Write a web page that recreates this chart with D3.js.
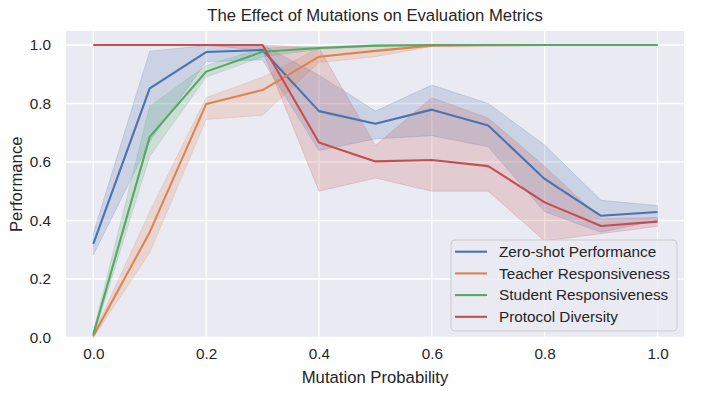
<!DOCTYPE html>
<html>
<head>
<meta charset="utf-8">
<script src="https://cdn.jsdelivr.net/npm/d3@7"></script>
<style>
  body { margin: 0; background: #fff; }
  text { font-family: Arial, "Liberation Sans", sans-serif; fill: #262626; }
</style>
</head>
<body>
<svg id="chart" width="701" height="396"></svg>
<script>
// mutation probability (x)
var probs = [0.0, 0.1, 0.2, 0.3, 0.4, 0.5, 0.6, 0.7, 0.8, 0.9, 1.0];

// series means + confidence band (lo / hi)
var zeroShot    = [0.320, 0.852, 0.976, 0.983, 0.774, 0.731, 0.779, 0.725, 0.542, 0.416, 0.429];
var zeroShotLo  = [0.282, 0.670, 0.943, 0.949, 0.639, 0.679, 0.690, 0.652, 0.430, 0.360, 0.400];
var zeroShotHi  = [0.356, 0.979, 0.998, 1.000, 0.897, 0.774, 0.863, 0.800, 0.658, 0.469, 0.451];

var teacher     = [0.005, 0.360, 0.798, 0.846, 0.960, 0.980, 0.998, 0.999, 1.000, 1.000, 1.000];
var teacherLo   = [0.000, 0.290, 0.745, 0.760, 0.940, 0.960, 0.995, 0.998, 1.000, 1.000, 1.000];
var teacherHi   = [0.010, 0.430, 0.820, 0.890, 0.990, 0.995, 1.000, 1.000, 1.000, 1.000, 1.000];

var student     = [0.010, 0.686, 0.909, 0.977, 0.990, 0.998, 1.000, 1.000, 1.000, 1.000, 1.000];
var studentLo   = [0.000, 0.620, 0.890, 0.960, 0.985, 0.996, 1.000, 1.000, 1.000, 1.000, 1.000];
var studentHi   = [0.020, 0.790, 0.930, 0.990, 0.995, 1.000, 1.000, 1.000, 1.000, 1.000, 1.000];

var protocol    = [1.000, 1.000, 1.000, 1.000, 0.667, 0.602, 0.607, 0.586, 0.462, 0.381, 0.396];
var protocolLo  = [1.000, 1.000, 1.000, 0.980, 0.500, 0.545, 0.500, 0.500, 0.330, 0.355, 0.380];
var protocolHi  = [1.000, 1.000, 1.000, 1.000, 0.990, 0.656, 0.820, 0.750, 0.585, 0.405, 0.410];

var seriesNames = ["Zero-shot Performance", "Teacher Responsiveness", "Student Responsiveness", "Protocol Diversity"];
var colors = ["#4C72B0", "#DD8452", "#55A868", "#C44E52"];
var xTicks = [0.0, 0.2, 0.4, 0.6, 0.8, 1.0];
var yTicks = [0.0, 0.2, 0.4, 0.6, 0.8, 1.0];

var series = [
    {name: seriesNames[0], mean: zeroShot, lo: zeroShotLo, hi: zeroShotHi},
    {name: seriesNames[1], mean: teacher,  lo: teacherLo,  hi: teacherHi},
    {name: seriesNames[2], mean: student,  lo: studentLo,  hi: studentHi},
    {name: seriesNames[3], mean: protocol, lo: protocolLo, hi: protocolHi}
];

var svg = d3.select("#chart");
// plot box (note: "top" is taken by window.top, so use other names)
var plotL = 66, plotR = 684, plotT = 31, plotB = 337.5;

// x: 0 -> 93.3, 1 -> 657.5
var xScale = d3.scaleLinear().domain([0, 1]).range([93.3, 657.5]);
var yScale = d3.scaleLinear().domain([0, 1]).range([plotB, 45]);

// background
svg.append("rect")
    .attr("x", plotL).attr("y", plotT)
    .attr("width", plotR - plotL).attr("height", plotB - plotT)
    .attr("fill", "#EAEAF2");

// gridlines
var grid = svg.append("g");
grid.selectAll(".gx").data(xTicks).enter().append("line")
    .attr("x1", d => xScale(d)).attr("x2", d => xScale(d))
    .attr("y1", plotT).attr("y2", plotB)
    .attr("stroke", "#fff").attr("stroke-width", 1.3);
grid.selectAll(".gy").data(yTicks).enter().append("line")
    .attr("x1", plotL).attr("x2", plotR)
    .attr("y1", d => yScale(d)).attr("y2", d => yScale(d))
    .attr("stroke", "#fff").attr("stroke-width", 1.3);

// axes (tick labels only, seaborn darkgrid style)
var xAxis = svg.append("g")
    .attr("transform", `translate(0, ${plotB})`)
    .call(d3.axisBottom(xScale).tickValues(xTicks).tickFormat(d3.format(".1f")).tickSize(0).tickPadding(11));
var yAxis = svg.append("g")
    .attr("transform", `translate(${plotL}, 0)`)
    .call(d3.axisLeft(yScale).tickValues(yTicks).tickFormat(d3.format(".1f")).tickSize(0).tickPadding(15));
[xAxis, yAxis].forEach(function(a){
    a.select(".domain").remove();
    a.selectAll("text").attr("font-size", 15.3).attr("fill", "#262626")
        .attr("font-family", "Arial, 'Liberation Sans', sans-serif");
});

var plot = svg.append("g");

// bands first, all below lines
var area = d3.area()
    .x((d, i) => xScale(probs[i]))
    .y0(d => yScale(d[0]))
    .y1(d => yScale(d[1]));
series.forEach(function(s, k){
    var pts = s.lo.map((v, i) => [v, s.hi[i]]);
    plot.append("path")
        .attr("d", area(pts))
        .attr("fill", colors[k])
        .attr("fill-opacity", 0.2)
        .attr("stroke", colors[k])
        .attr("stroke-opacity", 0.2)
        .attr("stroke-width", 1);
});

var line = d3.line()
    .x((d, i) => xScale(probs[i]))
    .y(d => yScale(d));
series.forEach(function(s, k){
    plot.append("path")
        .attr("d", line(s.mean))
        .attr("fill", "none")
        .attr("stroke", colors[k])
        .attr("stroke-width", 2.1)
        .attr("stroke-linejoin", "round");
});

// title and axis labels
svg.append("text")
    .attr("x", (plotL + plotR) / 2).attr("y", 20.7)
    .attr("text-anchor", "middle").attr("font-size", 16.7)
    .text("The Effect of Mutations on Evaluation Metrics");
svg.append("text")
    .attr("x", (plotL + plotR) / 2).attr("y", 383)
    .attr("text-anchor", "middle").attr("font-size", 16.7)
    .text("Mutation Probability");
svg.append("text")
    .attr("transform", `translate(22, ${(plotT + plotB) / 2}) rotate(-90)`)
    .attr("text-anchor", "middle").attr("font-size", 16.7)
    .text("Performance");

// legend
var lg = svg.append("g").attr("transform", "translate(451, 240)");
lg.append("rect")
    .attr("width", 226).attr("height", 91)
    .attr("rx", 4).attr("ry", 4)
    .attr("fill", "#EAEAF2").attr("fill-opacity", 0.8)
    .attr("stroke", "#CCCCCC").attr("stroke-width", 1);
var rows = lg.selectAll(".row").data(seriesNames).enter().append("g")
    .attr("transform", (d, i) => `translate(0, ${11.7 + i * 21.7})`);
rows.append("line")
    .attr("x1", 4).attr("x2", 36)
    .attr("stroke", (d, i) => colors[i]).attr("stroke-width", 2.1);
rows.append("text")
    .attr("x", 48).attr("dy", "0.35em")
    .attr("font-size", 15.3)
    .text(d => d);
</script>
</body>
</html>
